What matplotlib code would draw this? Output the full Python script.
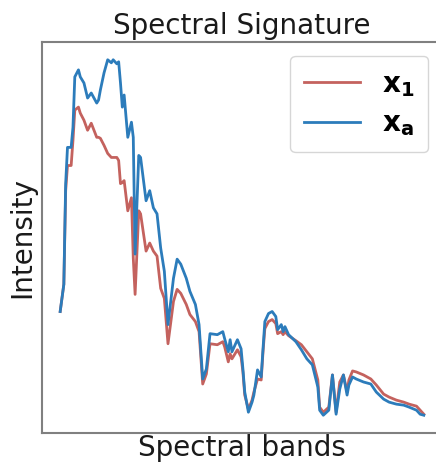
import numpy as np
import matplotlib
matplotlib.use("Agg")
import matplotlib.pyplot as plt

# band indices sampled along the spectrum
bands = [0, 2, 3, 4, 6, 7, 8, 10, 11, 13,
         15, 17, 20, 21, 22, 24, 26, 28, 29, 31,
         32, 33, 34, 35, 37, 39, 40, 41, 43, 44,
         47, 49, 51, 53, 55, 57, 59, 62, 64, 66,
         69, 71, 74, 76, 78, 80, 82, 86, 89, 90,
         92, 93, 94, 97, 99, 100, 101, 103, 105, 106,
         108, 110, 111, 112, 114, 116, 118, 119, 121, 122,
         123, 125, 129, 132, 135, 138, 141, 142, 144, 147,
         149, 151, 153, 155, 157, 158, 160, 162, 166, 170,
         173, 177, 180, 184, 188, 191, 195, 197, 199]

# x_1 (red)
x_1 = [3075, 3750, 6075, 6700, 6700, 7325, 8075, 8150, 8000, 7825,
       7575, 7750, 7400, 7400, 7375, 7200, 7000, 6900, 6900, 6900,
       6825, 6250, 6275, 6325, 5575, 5900, 4400, 3500, 5575, 5500,
       4575, 4775, 4575, 4450, 3650, 3400, 2275, 3325, 3625, 3525,
       3250, 3000, 2825, 2575, 1275, 1525, 2275, 2250, 2325, 2200,
       1825, 2025, 1900, 2125, 1950, 1575, 1000, 650, 875, 1075,
       1400, 1375, 2075, 2650, 2825, 2875, 2775, 2525, 2575, 2500,
       2575, 2475, 2350, 2250, 2075, 1900, 1375, 700, 575, 700,
       1500, 575, 1325, 1500, 1075, 1375, 1600, 1575, 1500, 1400,
       1250, 1025, 950, 875, 825, 775, 725, 625, 525]

# x_a (blue)
x_a = [3075, 3750, 6250, 7150, 7150, 7650, 8900, 9075, 8900, 8750,
       8375, 8500, 8250, 8325, 8575, 9000, 9325, 9250, 9325, 9225,
       9275, 8750, 8150, 8450, 7400, 7775, 7400, 4500, 6950, 6900,
       5825, 6075, 5650, 5500, 4650, 4075, 2750, 3900, 4375, 4250,
       3900, 3575, 3250, 2750, 1400, 1650, 2525, 2500, 2575, 2400,
       2075, 2375, 2075, 2375, 2150, 1650, 1075, 575, 825, 1000,
       1625, 1450, 2150, 2825, 3025, 3075, 2950, 2625, 2750, 2575,
       2700, 2500, 2325, 2125, 1900, 1750, 1200, 625, 500, 625,
       1500, 525, 1150, 1500, 1000, 1250, 1450, 1400, 1325, 1275,
       1075, 900, 825, 775, 750, 700, 625, 525, 500]

fig = plt.figure(figsize=(4.36, 4.62), dpi=100)
ax = fig.add_axes([42 / 436, 29 / 462, 400 / 436, 391 / 462])

ax.plot(bands, x_1, color='#c4625e', lw=2, label=r'$\mathbf{x_1}$')
ax.plot(bands, x_a, color='#2c7cbb', lw=2, label=r'$\mathbf{x_a}$')

ax.set_xticks([])
ax.set_yticks([])
for s in ax.spines.values():
    s.set_color('#808080')
    s.set_linewidth(1.5)
ax.spines['right'].set_visible(False)

ax.set_title('Spectral Signature', fontsize=20, color='#1a1a1a')
ax.set_xlabel('Spectral bands', fontsize=20, color='#1a1a1a', labelpad=1)
ax.set_ylabel('Intensity', fontsize=20, color='#1a1a1a')

ax.legend(loc='upper right', fontsize=20,
          handlelength=2.0, borderpad=0.5, labelspacing=0.4,
          handletextpad=0.8, edgecolor='#cccccc')

fig.savefig('out.png', dpi=100)
